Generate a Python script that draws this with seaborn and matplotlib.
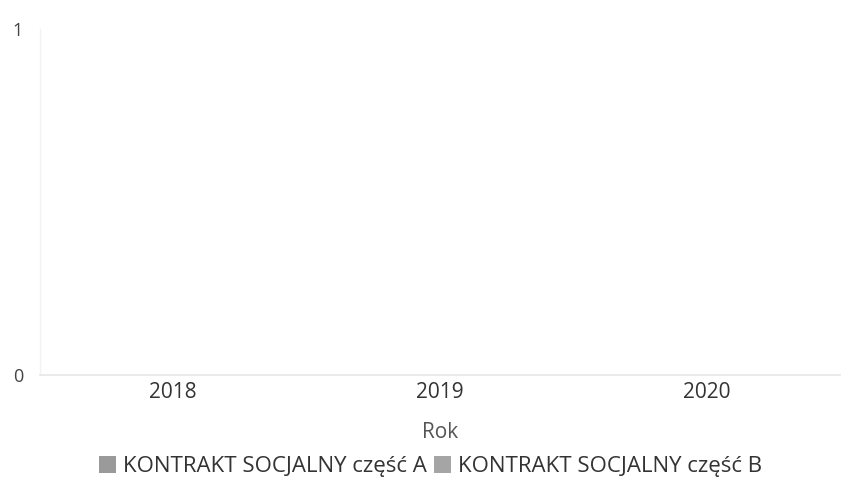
import matplotlib
matplotlib.use("Agg")
import matplotlib.pyplot as plt
import seaborn as sns
import pandas as pd
from matplotlib.patches import Patch

years = ["2018", "2019", "2020"]
series_names = ["KONTRAKT SOCJALNY część A", "KONTRAKT SOCJALNY część B"]
values_a = [0, 0, 0]
values_b = [0, 0, 0]
y_ticks = [0, 1]

sns.set_theme(style="white")
plt.rcParams["font.family"] = ["Open Sans", "DejaVu Sans"]

df = pd.DataFrame({
    "Rok": years * 2,
    "value": values_a + values_b,
    "series": [series_names[0]] * 3 + [series_names[1]] * 3,
})

colors = ["#9a9a9a", "#a5a5a5"]
fig = plt.figure(figsize=(8.61, 4.84), dpi=100)
ax = fig.add_axes([0.046, 0.225, 0.93, 0.715])
sns.barplot(data=df, x="Rok", y="value", hue="series", palette=colors, ax=ax, legend=False)
ax.set_ylim(0, 1)
ax.set_yticks(y_ticks)
ax.set_yticklabels([str(t) for t in y_ticks])
ax.tick_params(axis="y", length=0, pad=12, labelsize=13, labelcolor="#444444")
ax.tick_params(axis="x", length=0, pad=5, labelsize=15, labelcolor="#333333")
ax.set_ylabel("")
ax.set_xlabel("Rok", fontsize=15, color="#555555", labelpad=14)
for s in ["top", "right"]:
    ax.spines[s].set_visible(False)
ax.spines["left"].set_color("#f2f2f2")
ax.spines["bottom"].set_color("#e6e6e6")
ax.spines["left"].set_linewidth(1)
ax.spines["bottom"].set_linewidth(1.2)

handles = [Patch(facecolor=c, edgecolor="none") for c in colors]
fig.legend(handles, series_names, loc="center", bbox_to_anchor=(0.5, 0.036), ncol=2,
           frameon=False, fontsize=16, handlelength=0.8, handleheight=0.8,
           handletextpad=0.3, columnspacing=0.3, labelcolor="#333333")

fig.savefig("out.png", dpi=100, facecolor="white")
